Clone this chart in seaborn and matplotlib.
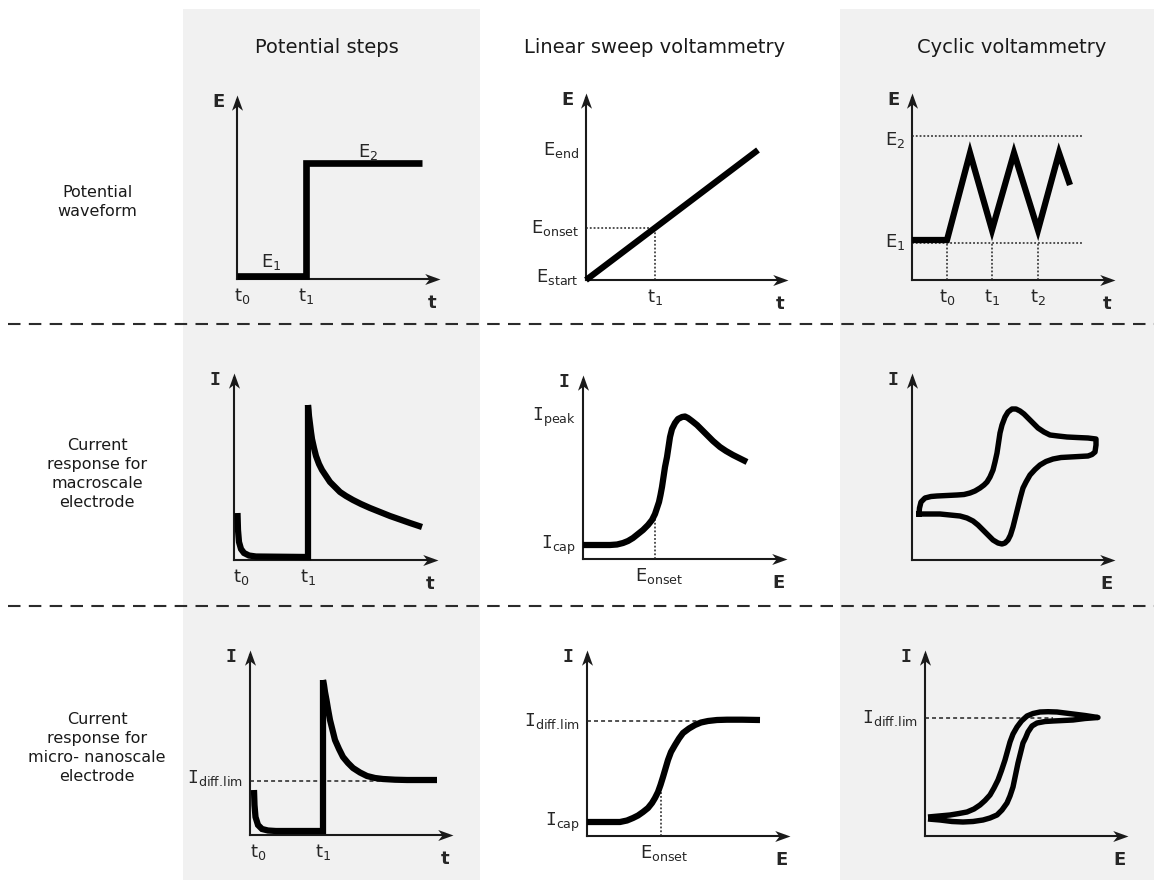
import numpy as np
import pandas as pd
import matplotlib
matplotlib.use("Agg")
import matplotlib.pyplot as plt
from matplotlib.path import Path
from matplotlib.patches import Rectangle
import seaborn as sns

sns.set_theme(style="white")
plt.rcParams["font.family"] = ["DejaVu Sans"]
plt.rcParams["mathtext.fontset"] = "custom"
plt.rcParams["mathtext.rm"] = "DejaVu Sans"
plt.rcParams["mathtext.it"] = "DejaVu Sans"
plt.rcParams["mathtext.tt"] = "DejaVu Sans Mono"

# ------------------------------------------------------------------ data
column_titles = ["Potential steps", "Linear sweep voltammetry", "Cyclic voltammetry"]
row_labels = ["Potential\nwaveform",
              "Current\nresponse for\nmacroscale\nelectrode",
              "Current\nresponse for\nmicro- nanoscale\nelectrode"]

# row 1 : potential waveforms
step_t = [0, 69, 69, 185]
step_E = [3, 3, 116.5, 116.5]
step_t0, step_t1 = 0, 69

lsv_t = [0, 172]
lsv_E = [0, 130]
lsv_t1, lsv_E_onset, lsv_E_start, lsv_E_end = 69, 52, 3, 130

cv_t = [0, 35, 58, 80, 102, 126, 147, 158]
cv_E = [40, 40, 127, 50, 127, 50, 127, 95]
cv_E1, cv_E2 = 37, 144
cv_tk = [35, 80, 126]

# row 2 : macroscale electrode
macro_step_t = [3.5, 4, 5, 7, 10, 15, 22, 74, 74, 74.5, 75, 76, 77, 78, 80, 82, 85, 88, 92, 96, 101,
                106, 112, 119, 127, 136, 146, 156, 166, 176, 188]
macro_step_I = [47, 30, 18, 11, 7, 4.5, 3.5, 3, 155, 150, 144, 136, 128, 121, 112, 104, 96, 90, 84, 78, 73,
                68, 64, 60, 56, 52, 48, 44, 40.5, 37, 33]
macro_t0, macro_t1 = 3, 74

macro_lsv_E = [0, 27, 34, 40, 45, 50, 55, 60, 65, 69, 72, 74, 76, 77.5, 79, 80.5, 82, 84, 85.5, 87, 89,
               92, 95, 99, 102, 105, 109, 114, 119, 124, 130, 137, 143, 150, 157, 164]
macro_lsv_I = [14, 14, 14.5, 16, 18, 21, 25, 29, 34, 39, 45, 51, 57, 64, 72, 82, 92, 102, 112, 122, 130,
               136, 140, 142, 142.5, 141, 138, 134, 129, 124, 118, 112, 108, 104, 100.5, 97]
macro_E_onset, macro_I_cap, macro_I_peak = 72, 14, 142

macro_cv_E = [7, 7.5, 9, 13, 19, 25, 35, 45, 52, 58, 63, 68, 72, 75, 78, 81, 83, 85, 86.5, 88, 90, 93,
              96, 100, 104, 108, 112, 116, 121, 126, 132, 138, 146, 155, 165, 176, 184,
              184, 183, 180, 176, 167, 158, 149, 141, 134, 128, 123, 118, 114, 111, 108.5, 106, 103.5,
              101, 98.5, 96, 93, 90, 86, 81, 76, 71, 66, 61, 55, 48, 38, 28, 18, 7]
macro_cv_I = [46, 52, 58, 62, 63.5, 64, 64.5, 65, 65.5, 67, 69, 72, 75, 78, 83, 90, 98, 107, 117, 127, 135, 143,
              148, 151, 151, 149, 146, 142, 137, 132, 128, 125, 124, 123, 122.5, 122, 121,
              115, 108, 105.5, 104, 103.5, 103, 102.5, 101, 98.5, 95, 90.5, 85, 78, 72, 63, 53, 43,
              33, 25, 20, 17, 16, 17, 20, 25, 30, 35, 39, 42, 44, 45, 46, 46, 46]

# row 3 : micro / nanoscale electrode
micro_step_t = [4, 4.5, 5.5, 8, 12, 18, 26, 73, 73, 74, 75, 76.5, 78, 80, 82.5, 85, 89, 93, 98, 103,
                110, 117, 125, 133, 145, 157, 172, 187]
micro_step_I = [45, 30, 18, 10, 6, 4.5, 4, 4, 155, 150, 143, 135, 126, 115, 105, 95, 86, 78, 72, 67,
                62.5, 59, 57, 56, 55.3, 55, 55, 55]
micro_t0, micro_t1, micro_step_Ilim = 4, 73, 54

micro_lsv_E = [0, 33, 40, 46, 51, 56, 61, 65, 68, 71, 73.5, 76, 78.5, 81, 84, 88, 92, 96, 102, 108,
               114, 121, 130, 140, 155, 173]
micro_lsv_I = [14, 14, 15.5, 18, 20.5, 24, 28, 33, 38, 44, 51, 59, 67.5, 76, 84, 91, 97.5, 103, 107.5, 111,
               113.5, 115, 116, 116.3, 116.3, 116]
micro_E_onset, micro_I_cap, micro_lsv_Ilim = 74, 14, 115

micro_cv_E = [3, 14, 25, 34, 42, 49, 55, 60, 65, 69, 73, 76.5, 80, 82.5, 85, 88, 92, 96.5, 102, 108,
              115, 123, 132, 140, 148, 160, 173,
              160, 148, 138, 128, 120, 112, 107, 103, 100.5, 98, 95.5, 93, 90.5, 88, 85, 82, 77, 72,
              65, 58, 48, 38, 27, 15, 3]
micro_cv_I = [19, 20, 21, 22.5, 24, 27, 31, 35.5, 41, 48, 56, 65.5, 76, 85, 94, 102, 109, 115, 120, 122.5,
              124, 124.3, 124, 123, 122, 120.5, 118.5,
              117.5, 116, 115.5, 115, 114.5, 113, 110, 104, 98, 93, 83, 73, 61, 49, 40, 33, 26, 21,
              18, 16, 14.5, 14, 14.5, 16, 17]
micro_cv_Ilim = 118

# ------------------------------------------------------------------ layout
W, H = 1154, 881
fig = plt.figure(figsize=(W / 100, H / 100), dpi=100)
fig.patch.set_facecolor("white")

bg = fig.add_axes([0, 0, 1, 1])
bg.set_xlim(0, W)
bg.set_ylim(H, 0)
bg.set_axis_off()
for xa, xb in [(183, 480), (840, 1154)]:
    bg.add_patch(Rectangle((xa, 9), xb - xa, 871, facecolor="#f1f1f1", edgecolor="none"))
for ysep in (324, 606):
    bg.plot([8, W], [ysep, ysep], color="#2b2b2b", lw=1.5, linestyle=(0, (6, 4)))
for x, title in zip([327, 655, 1012], column_titles):
    bg.text(x, 53, title, ha="center", va="baseline", fontsize=14, color="#1a1a1a")
for y, lab in zip([202, 474, 748], row_labels):
    bg.text(97, y, lab, ha="center", va="center", fontsize=11.5, linespacing=1.35, color="#1a1a1a")

head_right = Path([(0, 0), (-1, 0.36), (-0.72, 0), (-1, -0.36), (0, 0)],
                  [Path.MOVETO, Path.LINETO, Path.LINETO, Path.LINETO, Path.CLOSEPOLY])
head_up = Path([(0, 0), (0.36, -1), (0, -0.72), (-0.36, -1), (0, 0)],
               [Path.MOVETO, Path.LINETO, Path.LINETO, Path.LINETO, Path.CLOSEPOLY])

LBL = 13
DOT = (0, (1.2, 1.3))
DASH = (0, (2.6, 2.0))


def panel(box, ylab, xlab, ymono=False):
    x0, x1, y0, y1 = box
    ax = fig.add_axes([x0 / W, 1 - y0 / H, (x1 - x0) / W, (y0 - y1) / H])
    xm, ym = x1 - x0, y0 - y1
    ax.set_xlim(0, xm)
    ax.set_ylim(0, ym)
    ax.set_axis_off()
    ax.patch.set_alpha(0)
    ax.plot([0, xm - 5], [0, 0], color="k", lw=1.5, clip_on=False, solid_capstyle="projecting")
    ax.plot([0, 0], [0, ym - 5], color="k", lw=1.5, clip_on=False, solid_capstyle="projecting")
    ax.plot([xm], [0], marker=head_right, ms=22, color="k", mew=0, clip_on=False, ls="none")
    ax.plot([0], [ym], marker=head_up, ms=22, color="k", mew=0, clip_on=False, ls="none")
    fam = "DejaVu Sans Mono" if ymono else "DejaVu Sans"
    ax.annotate(ylab, xy=(0, ym), xytext=(-13.5, -5), textcoords="offset points",
                ha="center", va="center", fontsize=13, fontweight="bold", family=fam)
    ax.annotate(xlab, xy=(xm, 0), xytext=(-6, -17.5), textcoords="offset points",
                ha="center", va="center", fontsize=13, fontweight="bold")
    return ax


def curve(ax, x, y, lw=4.5, cap="butt", join="round"):
    sns.lineplot(x=x, y=y, ax=ax, sort=False, estimator=None, color="black",
                 linewidth=lw, clip_on=False, solid_capstyle=cap, solid_joinstyle=join)


def xtick(ax, value, text, dx=0):
    ax.annotate(text, xy=(value, 0), xytext=(dx, -12.5), textcoords="offset points",
                ha="center", va="center", fontsize=LBL)


def ytick(ax, value, text):
    ax.annotate(text, xy=(0, value), xytext=(-5, 0), textcoords="offset points",
                ha="right", va="center", fontsize=LBL)


def guide(ax, x, y, style):
    ax.plot(x, y, color="#222222", lw=1.1, linestyle=style, clip_on=False)


def split_at_peak(x, y):
    k = int(np.argmax(y))
    return (x[:k + 1], y[:k + 1]), (x[k:], y[k:])


ILIM = r"$\mathtt{I}_{\mathrm{diff.\!lim}}$"

# ---- row 1
ax = panel((237, 440, 279, 95), "E", "t")
curve(ax, step_t, step_E, lw=4.8, join="miter")
xtick(ax, step_t0, r"$\mathrm{t}_0$", dx=3.5)
xtick(ax, step_t1, r"$\mathrm{t}_1$")
ax.text(34, 17, r"$\mathrm{E}_1$", ha="center", va="center", fontsize=LBL)
ax.text(131, 127, r"$\mathrm{E}_2$", ha="center", va="center", fontsize=LBL)

ax = panel((586, 788, 280, 93), "E", "t")
guide(ax, [0, lsv_t1], [lsv_E_onset, lsv_E_onset], DOT)
guide(ax, [lsv_t1, lsv_t1], [0, lsv_E_onset], DOT)
curve(ax, lsv_t, lsv_E)
xtick(ax, lsv_t1, r"$\mathrm{t}_1$")
ytick(ax, lsv_E_start, r"$\mathrm{E}_{\mathrm{start}}$")
ytick(ax, lsv_E_onset, r"$\mathrm{E}_{\mathrm{onset}}$")
ytick(ax, lsv_E_end, r"$\mathrm{E}_{\mathrm{end}}$")

ax = panel((912, 1115, 280, 93), "E", "t")
guide(ax, [0, 171], [cv_E2, cv_E2], DOT)
guide(ax, [0, 171], [cv_E1, cv_E1], DOT)
for tk in cv_tk:
    guide(ax, [tk, tk], [0, cv_E1], DOT)
curve(ax, cv_t, cv_E, lw=4.5, join="miter")
for i, tk in enumerate(cv_tk):
    xtick(ax, tk, r"$\mathrm{t}_%d$" % i)
ytick(ax, cv_E1 + 1, r"$\mathrm{E}_1$")
ytick(ax, cv_E2 - 4, r"$\mathrm{E}_2$")

# ---- row 2
ax = panel((234, 438, 560, 373), "I", "t", ymono=True)
a, b = split_at_peak(macro_step_t, macro_step_I)
curve(ax, *a, join="miter")
curve(ax, *b)
xtick(ax, macro_t0, r"$\mathrm{t}_0$", dx=3)
xtick(ax, macro_t1, r"$\mathrm{t}_1$")

ax = panel((583, 787, 559, 375), "I", "E", ymono=True)
guide(ax, [macro_E_onset, macro_E_onset], [0, 45], DOT)
curve(ax, macro_lsv_E, macro_lsv_I)
xtick(ax, macro_E_onset, r"$\mathrm{E}_{\mathrm{onset}}$", dx=3)
ytick(ax, macro_I_cap, r"$\mathtt{I}_{\mathrm{cap}}$")
ytick(ax, macro_I_peak, r"$\mathtt{I}_{\mathrm{peak}}$")

ax = panel((912, 1115, 560, 373), "I", "E", ymono=True)
curve(ax, macro_cv_E, macro_cv_I, lw=3.9, cap="projecting")

# ---- row 3
ax = panel((250, 453, 835, 650), "I", "t", ymono=True)
guide(ax, [0, 187], [micro_step_Ilim, micro_step_Ilim], DASH)
a, b = split_at_peak(micro_step_t, micro_step_I)
curve(ax, *a, join="miter")
curve(ax, *b)
xtick(ax, micro_t0, r"$\mathrm{t}_0$", dx=3)
xtick(ax, micro_t1, r"$\mathrm{t}_1$")
ytick(ax, micro_step_Ilim + 3, ILIM)

ax = panel((587, 790, 836, 650), "I", "E", ymono=True)
guide(ax, [0, 130], [micro_lsv_Ilim, micro_lsv_Ilim], DASH)
guide(ax, [micro_E_onset, micro_E_onset], [0, 50], DOT)
curve(ax, micro_lsv_E, micro_lsv_I)
xtick(ax, micro_E_onset, r"$\mathrm{E}_{\mathrm{onset}}$", dx=2)
ytick(ax, micro_I_cap, r"$\mathtt{I}_{\mathrm{cap}}$")
ytick(ax, micro_lsv_Ilim, ILIM)

ax = panel((925, 1128, 836, 650), "I", "E", ymono=True)
guide(ax, [0, 128], [micro_cv_Ilim, micro_cv_Ilim], DASH)
curve(ax, micro_cv_E, micro_cv_I, lw=3.9, cap="butt")
ytick(ax, micro_cv_Ilim, ILIM)

fig.savefig("out.png", dpi=100, facecolor="white")
